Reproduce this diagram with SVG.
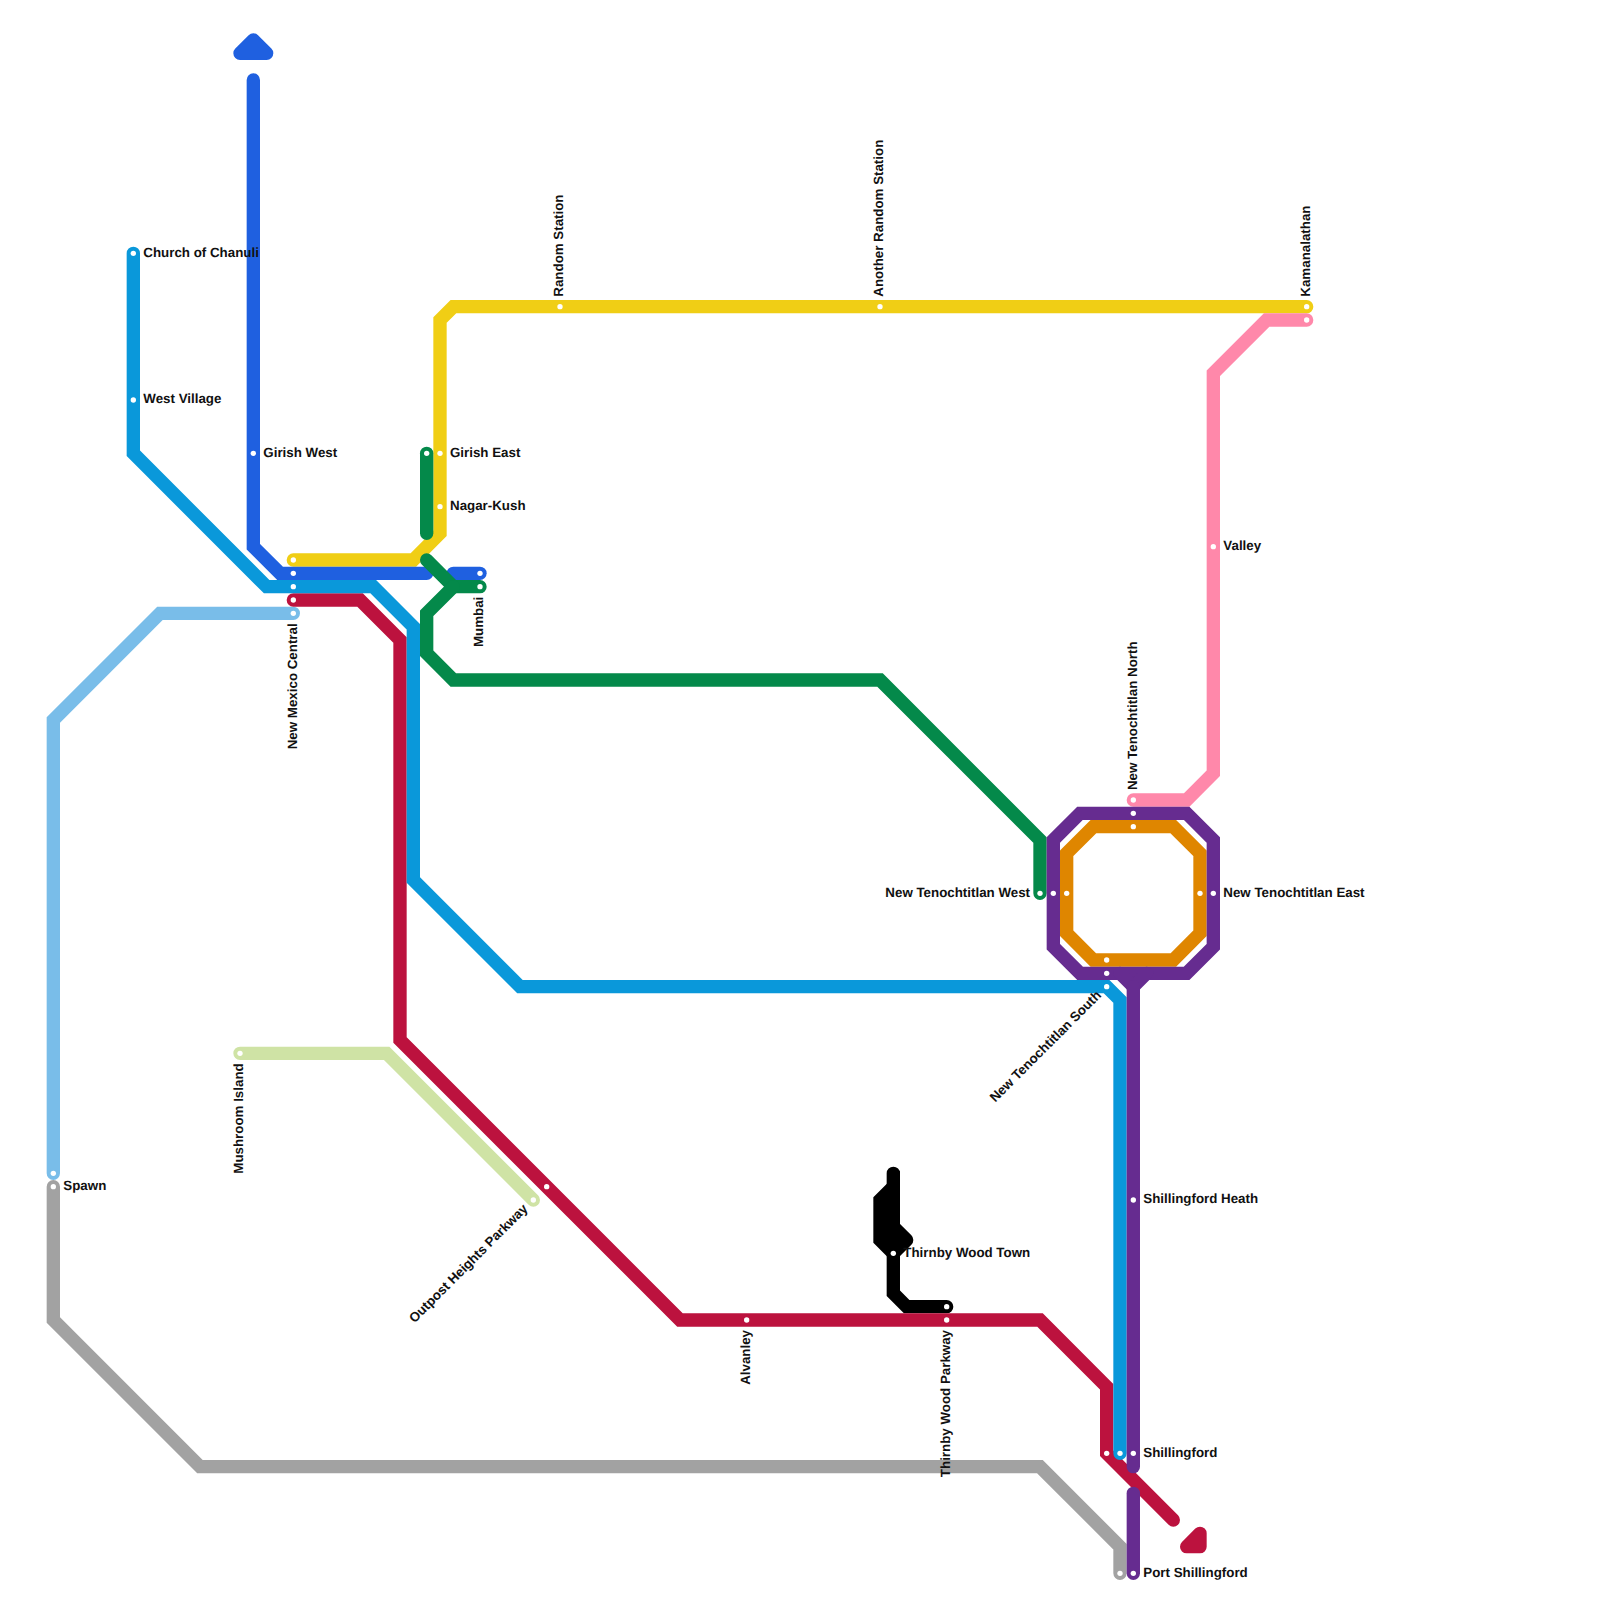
<svg xmlns="http://www.w3.org/2000/svg" width="1600" height="1600" viewBox="0 0 1600 1600">
<style>
.l{fill:none;stroke-width:13.33;stroke-linecap:round;stroke-linejoin:miter;stroke-miterlimit:10}
.t{stroke-linejoin:round}
.f{fill:#000}
.s{fill:#fff}
text{font-family:"Liberation Sans",Arial,sans-serif;font-weight:700;font-size:13.33px;fill:#111;text-rendering:geometricPrecision}
.e{text-anchor:end}
</style>
<rect width="1600" height="1600" fill="#fff"/>
<g id="connectors">
<path class="l" stroke="#cfe3a5" d="M240 1053.33H386.67L533.33 1200"/>
<path class="l" stroke="#79bde9" d="M293.33 613.33H160L53.33 720V1173.33"/>
<path class="l" stroke="#a2a2a2" d="M53.33 1186.67V1320L200 1466.67H1040L1120 1546.67V1573.33"/>
<path class="l" stroke="#000" d="M893.33 1173.33V1293.33L906.67 1306.67H946.67"/>
<path class="l f" stroke="#000" d="M893.33 1186.67L880 1200V1240L893.33 1253.33Z"/>
<path class="l t" stroke="#000" d="M893.33 1226.67L906.67 1240L893.33 1253.33"/>
<path class="l" stroke="#bc123e" d="M293.33 600H360L400 640V1040L680 1320H1040L1106.67 1386.67V1453.33L1173.33 1520"/>
<path class="l t" stroke="#bc123e" d="M1186.67 1546.67H1200V1533.33Z"/>
<path class="l" stroke="#f0ce15" d="M293.33 560H413.33L440 533.33V320L453.33 306.67H1306.67"/>
<path class="l" stroke="#1f60e0" d="M253.33 80V546.67L280 573.33H426.67"/>
<path class="l" stroke="#1f60e0" d="M453.33 573.33H480"/>
<path class="l t" stroke="#1f60e0" d="M240 53.33H266.67L253.33 40Z"/>
<path class="l" stroke="#0a98da" d="M133.33 253.33V453.33L266.67 586.67H373.33L413.33 626.67V880L520 986.67H1106.67L1120 1000V1453.33"/>
<path class="l" stroke="#04894a" d="M426.67 453.33V533.33"/>
<path class="l" stroke="#04894a" d="M426.67 560L453.33 586.67H480"/>
<path class="l" stroke="#04894a" d="M453.33 586.67L426.67 613.33V653.33L453.33 680H880L1040 840V893.33"/>
<path class="l" stroke="#ff88aa" d="M1133.33 800H1186.67L1213.33 773.33V373.33L1266.67 320H1306.67"/>
<path class="l" stroke="#df8600" d="M1066.67 853.33L1093.33 826.67H1173.33L1200 853.33V933.33L1173.33 960H1093.33L1066.67 933.33Z"/>
<path class="l" stroke="#662c90" d="M1053.33 840L1080 813.33H1186.67L1213.33 840V946.67L1186.67 973.33H1080L1053.33 946.67Z"/>
<path class="l" stroke="#662c90" d="M1120 973.33L1133.33 986.67L1146.67 973.33"/>
<path class="l" stroke="#662c90" d="M1133.33 986.67V1466.67"/>
<path class="l" stroke="#662c90" d="M1133.33 1493.33V1573.33"/>
</g>
<g id="n-church-of-chanuli"><circle class="s" cx="133.33" cy="253.33" r="2.67"/><text x="143.33" y="256.67">Church of Chanuli</text></g>
<g id="n-west-village"><circle class="s" cx="133.33" cy="400" r="2.67"/><text x="143.33" y="403.33">West Village</text></g>
<g id="n-girish-west"><circle class="s" cx="253.33" cy="453.33" r="2.67"/><text x="263.33" y="456.67">Girish West</text></g>
<g id="n-girish-east"><circle class="s" cx="426.67" cy="453.33" r="2.67"/><circle class="s" cx="440" cy="453.33" r="2.67"/><text x="450" y="456.67">Girish East</text></g>
<g id="n-nagar-kush"><circle class="s" cx="440" cy="506.67" r="2.67"/><text x="450" y="510">Nagar-Kush</text></g>
<g id="n-random-station"><circle class="s" cx="560" cy="306.67" r="2.67"/><text x="563.33" y="296.67" transform="rotate(-90 563.33 296.67)">Random Station</text></g>
<g id="n-another-random-station"><circle class="s" cx="880" cy="306.67" r="2.67"/><text x="883.33" y="296.67" transform="rotate(-90 883.33 296.67)">Another Random Station</text></g>
<g id="n-kamanalathan"><circle class="s" cx="1306.67" cy="306.67" r="2.67"/><circle class="s" cx="1306.67" cy="320" r="2.67"/><text x="1310" y="296.67" transform="rotate(-90 1310 296.67)">Kamanalathan</text></g>
<g id="n-new-mexico-central"><circle class="s" cx="293.33" cy="560" r="2.67"/><circle class="s" cx="293.33" cy="573.33" r="2.67"/><circle class="s" cx="293.33" cy="586.67" r="2.67"/><circle class="s" cx="293.33" cy="600" r="2.67"/><circle class="s" cx="293.33" cy="613.33" r="2.67"/><text class="e" x="296.67" y="623.33" transform="rotate(-90 296.67 623.33)">New Mexico Central</text></g>
<g id="n-mumbai"><circle class="s" cx="480" cy="573.33" r="2.67"/><circle class="s" cx="480" cy="586.67" r="2.67"/><text class="e" x="483.33" y="596.67" transform="rotate(-90 483.33 596.67)">Mumbai</text></g>
<g id="n-valley"><circle class="s" cx="1213.33" cy="546.67" r="2.67"/><text x="1223.33" y="550">Valley</text></g>
<g id="n-new-tenochtitlan-north"><circle class="s" cx="1133.33" cy="800" r="2.67"/><circle class="s" cx="1133.33" cy="813.33" r="2.67"/><circle class="s" cx="1133.33" cy="826.67" r="2.67"/><text x="1136.67" y="790" transform="rotate(-90 1136.67 790)">New Tenochtitlan North</text></g>
<g id="n-new-tenochtitlan-west"><circle class="s" cx="1040" cy="893.33" r="2.67"/><circle class="s" cx="1053.33" cy="893.33" r="2.67"/><circle class="s" cx="1066.67" cy="893.33" r="2.67"/><text class="e" x="1030" y="896.67">New Tenochtitlan West</text></g>
<g id="n-new-tenochtitlan-east"><circle class="s" cx="1200" cy="893.33" r="2.67"/><circle class="s" cx="1213.33" cy="893.33" r="2.67"/><text x="1223.33" y="896.67">New Tenochtitlan East</text></g>
<g id="n-new-tenochtitlan-south"><circle class="s" cx="1106.67" cy="960" r="2.67"/><circle class="s" cx="1106.67" cy="973.33" r="2.67"/><circle class="s" cx="1106.67" cy="986.67" r="2.67"/><text class="e" x="1101.96" y="996.1" transform="rotate(-45 1101.96 996.1)">New Tenochtitlan South</text></g>
<g id="n-mushroom-island"><circle class="s" cx="240" cy="1053.33" r="2.67"/><text class="e" x="243.33" y="1063.33" transform="rotate(-90 243.33 1063.33)">Mushroom Island</text></g>
<g id="n-spawn"><circle class="s" cx="53.33" cy="1173.33" r="2.67"/><circle class="s" cx="53.33" cy="1186.67" r="2.67"/><text x="63.33" y="1190">Spawn</text></g>
<g id="n-outpost-heights-parkway"><circle class="s" cx="533.33" cy="1200" r="2.67"/><circle class="s" cx="546.67" cy="1186.67" r="2.67"/><text class="e" x="528.6" y="1209.4" transform="rotate(-45 528.6 1209.4)">Outpost Heights Parkway</text></g>
<g id="n-shillingford-heath"><circle class="s" cx="1133.33" cy="1200" r="2.67"/><text x="1143.33" y="1203.33">Shillingford Heath</text></g>
<g id="n-thirnby-wood-town"><circle class="s" cx="893.33" cy="1253.33" r="2.67"/><text x="903.33" y="1256.67">Thirnby Wood Town</text></g>
<g id="n-alvanley"><circle class="s" cx="746.67" cy="1320" r="2.67"/><text class="e" x="750" y="1330" transform="rotate(-90 750 1330)">Alvanley</text></g>
<g id="n-thirnby-wood-parkway"><circle class="s" cx="946.67" cy="1306.67" r="2.67"/><circle class="s" cx="946.67" cy="1320" r="2.67"/><text class="e" x="950" y="1330" transform="rotate(-90 950 1330)">Thirnby Wood Parkway</text></g>
<g id="n-shillingford"><circle class="s" cx="1106.67" cy="1453.33" r="2.67"/><circle class="s" cx="1120" cy="1453.33" r="2.67"/><circle class="s" cx="1133.33" cy="1453.33" r="2.67"/><text x="1143.33" y="1456.67">Shillingford</text></g>
<g id="n-port-shillingford"><circle class="s" cx="1120" cy="1573.33" r="2.67"/><circle class="s" cx="1133.33" cy="1573.33" r="2.67"/><text x="1143.33" y="1576.67">Port Shillingford</text></g>
</svg>
